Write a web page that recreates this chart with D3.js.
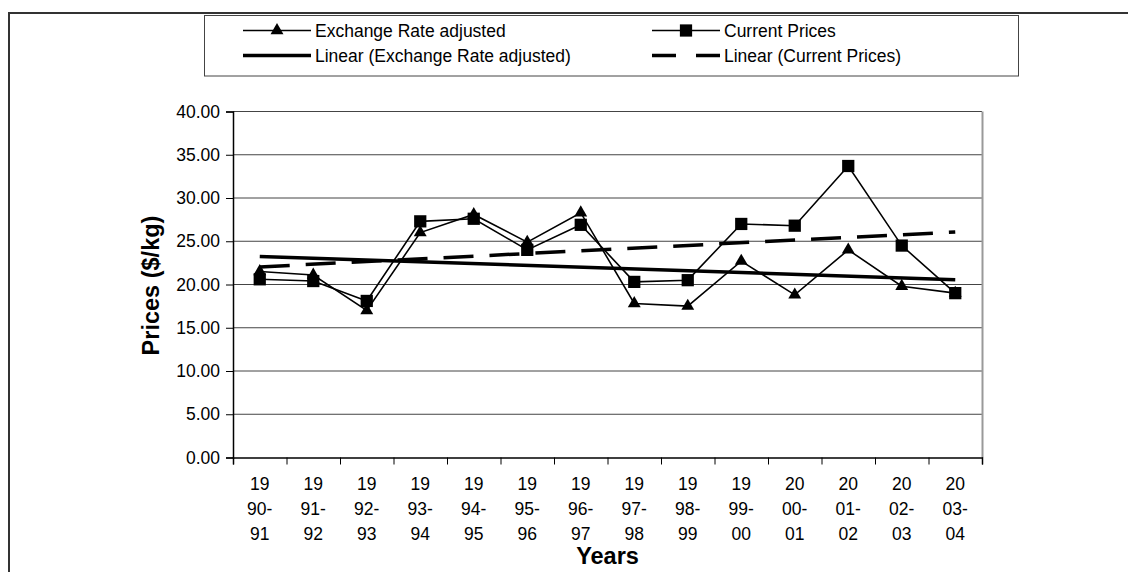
<!DOCTYPE html>
<html>
<head>
<meta charset="utf-8">
<script src="https://cdn.jsdelivr.net/npm/d3@7"></script>
<style>
  html, body { margin: 0; padding: 0; background: #fff; }
  svg { display: block; font-family: "Liberation Sans", Arial, sans-serif; }
</style>
</head>
<body>
<svg id="chart" width="1128" height="572"></svg>
<script>
// Financial years shown on the category axis
const years = ["1990-91","1991-92","1992-93","1993-94","1994-95","1995-96","1996-97",
               "1997-98","1998-99","1999-00","2000-01","2001-02","2002-03","2003-04"];

// Prices in $/kg
const exchangeRateAdjusted = [21.5, 21.1, 17.0, 26.0, 28.1, 24.9, 28.3, 17.8, 17.5, 22.7, 18.8, 24.0, 19.8, 19.0];
const currentPrices        = [20.6, 20.4, 18.1, 27.3, 27.6, 24.0, 26.9, 20.3, 20.5, 27.0, 26.8, 33.7, 24.5, 19.0];

// Value-axis ticks
const yTicks = [0, 5, 10, 15, 20, 25, 30, 35, 40];

const svg = d3.select("#chart");
const plot = { left: 233, right: 982, top: 111.5, bottom: 457.5 };

// Outer chart frame (left and top edges)
svg.append("path")
  .attr("d", `M9,572 V13 H1128`)
  .attr("fill", "none").attr("stroke", "#333").attr("stroke-width", 2);

const x = d3.scaleBand().domain(years).range([plot.left, plot.right]).padding(0);
const cx = d => x(d) + x.bandwidth() / 2;
const xEdge = d3.scaleLinear().domain([0, years.length]).range([plot.left, plot.right]);
const y = d3.scaleLinear().domain([0, 40]).range([plot.bottom, plot.top]);

// Horizontal gridlines
svg.append("g").selectAll("line").data(yTicks.filter(v => v > 0)).join("line")
  .attr("x1", plot.left).attr("x2", plot.right)
  .attr("y1", d => y(d)).attr("y2", d => y(d))
  .attr("stroke", "#444").attr("stroke-width", 1);

// Right edge of the plot area
svg.append("line")
  .attr("x1", plot.right + 0.5).attr("x2", plot.right + 0.5)
  .attr("y1", plot.top).attr("y2", plot.bottom)
  .attr("stroke", "#999").attr("stroke-width", 2);

// Y axis
const yAxis = svg.append("g").attr("transform", `translate(${plot.left},0)`)
  .call(d3.axisLeft(y).tickValues(yTicks).tickFormat(d3.format(".2f")).tickSize(7).tickPadding(6));
yAxis.select(".domain").attr("stroke", "#000").attr("stroke-width", 1.5);
yAxis.selectAll(".tick line").attr("stroke", "#000");
yAxis.selectAll("text").attr("font-size", "17.5px").attr("fill", "#000")
  .attr("font-family", "Liberation Sans, Arial, sans-serif");

// X axis: ticks sit between categories
const xAxis = svg.append("g").attr("transform", `translate(0,${plot.bottom})`)
  .call(d3.axisBottom(xEdge).tickValues(d3.range(years.length + 1)).tickFormat("").tickSize(7));
xAxis.select(".domain").attr("stroke", "#000").attr("stroke-width", 1.5);
xAxis.selectAll(".tick line").attr("stroke", "#000");

// Category labels, wrapped over three lines
const lbl = svg.append("g").attr("font-size", "17.5px").attr("fill", "#000").attr("text-anchor", "middle");
years.forEach(yr => {
  const parts = [yr.slice(0, 2), yr.slice(2, 5), yr.slice(5)];
  const t = lbl.append("text").attr("x", cx(yr));
  parts.forEach((p, i) => t.append("tspan").attr("x", cx(yr)).attr("y", 490 + i * 25).text(p));
});

// Axis titles
svg.append("text").attr("x", (plot.left + plot.right) / 2).attr("y", 564)
  .attr("text-anchor", "middle").attr("font-weight", "bold").attr("font-size", "23.5px").text("Years");
svg.append("text").attr("transform", "translate(158.5,285.5) rotate(-90)")
  .attr("text-anchor", "middle").attr("font-weight", "bold").attr("font-size", "23.5px").text("Prices ($/kg)");

// Least-squares trend over category index
function linearFit(vals) {
  const n = vals.length, xs = d3.range(n);
  const mx = d3.mean(xs), my = d3.mean(vals);
  const sxy = d3.sum(xs, i => (i - mx) * (vals[i] - my));
  const sxx = d3.sum(xs, i => (i - mx) * (i - mx));
  const b = sxy / sxx, a = my - b * mx;
  return [a, a + b * (n - 1)];
}

const line = d3.line().x((d, i) => cx(years[i])).y(d => y(d));
const triangle = d3.symbol().type(d3.symbolTriangle).size(72);
const square = d3.symbol().type(d3.symbolSquare).size(150);

function series(vals, sym) {
  const g = svg.append("g");
  g.append("path").attr("d", line(vals)).attr("fill", "none").attr("stroke", "#000").attr("stroke-width", 1.6);
  g.selectAll("path.m").data(vals).join("path").attr("class", "m")
    .attr("transform", (d, i) => `translate(${cx(years[i])},${y(d)})`)
    .attr("d", sym).attr("fill", "#000");
}
series(exchangeRateAdjusted, triangle());
series(currentPrices, square());

// Trend lines
const [erA, erB] = linearFit(exchangeRateAdjusted);
const [cpA, cpB] = linearFit(currentPrices);
const first = years[0], last = years[years.length - 1];
svg.append("line").attr("x1", cx(first)).attr("x2", cx(last)).attr("y1", y(erA)).attr("y2", y(erB))
  .attr("stroke", "#000").attr("stroke-width", 3.5);
svg.append("line").attr("x1", cx(first)).attr("x2", cx(last)).attr("y1", y(cpA)).attr("y2", y(cpB))
  .attr("stroke", "#000").attr("stroke-width", 3.5).attr("stroke-dasharray", "30,16");

// Legend
const lg = svg.append("g");
lg.append("rect").attr("x", 204.5).attr("y", 15.5).attr("width", 814).attr("height", 60.5)
  .attr("fill", "#fff").attr("stroke", "#444").attr("stroke-width", 1);
const legendItems = [
  { label: "Exchange Rate adjusted", col: 0, row: 0, width: 1.6, dash: null, marker: triangle() },
  { label: "Current Prices", col: 1, row: 0, width: 1.6, dash: null, marker: square() },
  { label: "Linear (Exchange Rate adjusted)", col: 0, row: 1, width: 3.5, dash: null, marker: null },
  { label: "Linear (Current Prices)", col: 1, row: 1, width: 3.5, dash: "24,20", marker: null }
];
const colX = [243, 652];
legendItems.forEach(it => {
  const x0 = colX[it.col], yy = 30.5 + it.row * 25;
  const l = lg.append("line").attr("x1", x0).attr("x2", x0 + 68).attr("y1", yy).attr("y2", yy)
    .attr("stroke", "#000").attr("stroke-width", it.width);
  if (it.dash) l.attr("stroke-dasharray", it.dash);
  if (it.marker) lg.append("path").attr("d", it.marker).attr("fill", "#000")
    .attr("transform", `translate(${x0 + 34},${yy})`);
  lg.append("text").attr("x", x0 + 72).attr("y", yy + 6.2).attr("font-size", "17.5px").attr("fill", "#000").text(it.label);
});
</script>
</body>
</html>
